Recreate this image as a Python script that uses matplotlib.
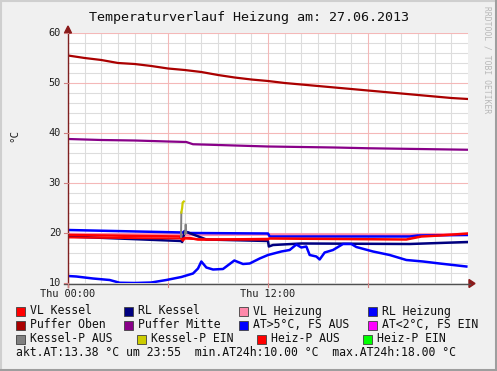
import matplotlib
matplotlib.use('Agg')
import matplotlib.pyplot as plt
import matplotlib.patches as mpatches
from matplotlib.lines import Line2D
import numpy as np

W, H = 497, 371
FONT = 'DejaVu Sans Mono'

# ---- data (hours since 00:00, temperature in degC) ----
oben_h = list(range(25))
puffer_oben = [55.5, 55.0, 54.6, 54.0, 53.8, 53.4, 52.9, 52.6, 52.2, 51.6, 51.1, 50.7,
               50.4, 50.0, 49.7, 49.4, 49.1, 48.8, 48.5, 48.2, 47.9, 47.6, 47.3, 47.0, 46.8]

mitte_h = [0, 1, 2, 3, 4, 5, 6, 7.1, 7.5, 8, 9, 10, 11, 12, 14, 16, 18, 20, 22, 24]
puffer_mitte = [38.8, 38.7, 38.6, 38.55, 38.5, 38.4, 38.3, 38.2, 37.75, 37.7, 37.6, 37.5,
                37.4, 37.3, 37.2, 37.1, 36.95, 36.85, 36.75, 36.65]

at_h = [0, 0.5, 1.5, 2.5, 3.1, 4.0, 5.0, 5.9, 6.8, 7.5, 7.8, 8.0, 8.3, 8.7, 9.3, 9.98,
        10.5, 10.9, 11.5, 12.0, 12.8, 13.3, 13.7, 14.0, 14.3, 14.5, 14.9, 15.1, 15.4,
        15.9, 16.5, 17.0, 17.3, 18.3, 19.3, 20.3, 21.3, 22.3, 23.9]
aussen = [11.4, 11.3, 10.9, 10.6, 10.05, 10.0, 10.1, 10.6, 11.2, 11.9, 12.9, 14.3, 13.1,
          12.7, 12.8, 14.5, 13.8, 13.9, 14.9, 15.6, 16.3, 16.6, 17.7, 17.1, 17.3, 15.6,
          15.3, 14.7, 16.1, 16.6, 17.8, 17.8, 17.2, 16.3, 15.6, 14.6, 14.3, 13.9, 13.3]

rlh_h = [0, 6.9, 7.0, 7.1, 7.3, 12.0, 12.1, 20.5, 21.0, 24]
rl_heizung = [20.6, 20.1, 20.4, 20.2, 20.0, 19.9, 19.3, 19.3, 19.5, 19.6]

vlh_h = [0, 7, 12, 20.5, 24]
vl_heizung = [19.8, 19.6, 19.7, 19.6, 19.8]

vlk_h = [0, 6.7, 6.9, 7.0, 7.3, 7.8, 9.0, 12.0, 12.1, 20.3, 21.2, 22.3, 24]
vl_kessel = [19.6, 19.3, 18.5, 19.0, 19.0, 18.7, 18.7, 18.8, 18.9, 18.7, 19.3, 19.5, 19.9]

hpa_h = [0, 6.8, 7.0, 8.0, 12.0]
heiz_p_aus = [19.1, 18.9, 18.9, 18.7, 18.7]

rlk_h = [0, 6.8, 6.85, 7.0, 7.2, 8.3, 12.0, 12.05, 12.3, 14.0, 20.5, 24]
rl_kessel = [19.3, 18.4, 18.2, 20.3, 20.1, 18.7, 18.4, 17.3, 17.6, 17.9, 17.8, 18.2]

kpa_h = [6.78, 6.80, np.nan, 7.02, 7.06, 7.1]
kessel_p_aus = [19.2, 24.1, np.nan, 19.8, 21.7, 20.0]

kpe_h = [6.80, 6.85, 6.88, 6.95]
kessel_p_ein = [24.1, 25.0, 26.1, 26.3]

legend_rows = [
    [('VL Kessel', '#FF0000'), ('RL Kessel', '#000080'),
     ('VL Heizung', '#FF88AA'), ('RL Heizung', '#0000FF')],
    [('Puffer Oben', '#AA0000'), ('Puffer Mitte', '#880088'),
     ('AT>5°C, FS AUS', '#0000FF'), ('AT<2°C, FS EIN', '#FF00FF')],
    [('Kessel-P AUS', '#808080'), ('Kessel-P EIN', '#CCCC00'),
     ('Heiz-P AUS', '#FF0000'), ('Heiz-P EIN', '#00FF00')],
]
legend_box_x = [[16, 124, 239, 368], [16, 124, 239, 368], [16, 137, 257, 363]]
legend_row_y = [311, 325, 339]
summary = 'akt.AT:13.38 °C um 23:55  min.AT24h:10.00 °C  max.AT24h:18.00 °C'


def fx(px):
    return px / W


def fy(py):
    return 1 - py / H


fig = plt.figure(figsize=(W / 100, H / 100), dpi=100)
fig.patch.set_facecolor('#F0F0F0')

# 3D-ish frame
fig.add_artist(Line2D([fx(0.5), fx(0.5)], [0, 1], color='#CFCFCF', lw=1.5))
fig.add_artist(Line2D([0, 1], [fy(0.5), fy(0.5)], color='#CFCFCF', lw=1.5))
fig.add_artist(Line2D([fx(495.5), fx(495.5)], [0, 1], color='#9E9E9E', lw=2.2))
fig.add_artist(Line2D([0, 1], [fy(369.5), fy(369.5)], color='#9E9E9E', lw=2.2))

ax = fig.add_axes([fx(68), fy(283), fx(468) - fx(68), fy(33) - fy(283)])
ax.set_facecolor('white')
ax.set_xlim(0, 24)
ax.set_ylim(10, 60)
for s in ax.spines.values():
    s.set_visible(False)
ax.set_xticks([])
ax.set_yticks([])

# grid
for h in range(1, 24):
    if h % 6:
        ax.axvline(h, color='#DDDDDD', lw=0.8, zorder=0)
for v in range(12, 60, 2):
    if v % 10:
        ax.axhline(v, color='#DDDDDD', lw=0.8, zorder=0)
for h in (0, 6, 12, 18):
    ax.axvline(h, color='#F4B8B8', lw=0.8, zorder=0.5)
for v in range(20, 61, 10):
    ax.axhline(v, color='#F4B8B8', lw=0.8, zorder=0.5)

lw = 1.8
ax.plot(vlh_h, vl_heizung, color='#FF88AA', lw=lw, zorder=2)
ax.plot(rlh_h, rl_heizung, color='#0000FF', lw=lw, zorder=3)
ax.plot(rlk_h, rl_kessel, color='#000080', lw=lw, zorder=3)
ax.plot(hpa_h, heiz_p_aus, color='#FF0000', lw=1.4, zorder=3)
ax.plot(vlk_h, vl_kessel, color='#FF0000', lw=lw, zorder=4)
ax.plot(kpa_h, kessel_p_aus, color='#808080', lw=1.4, zorder=5)
ax.plot(kpe_h, kessel_p_ein, color='#CCCC00', lw=1.6, zorder=5)
ax.plot(at_h, aussen, color='#0000FF', lw=lw, zorder=4)
ax.plot(oben_h, puffer_oben, color='#AA0000', lw=1.6, zorder=3)
ax.plot(mitte_h, puffer_mitte, color='#880088', lw=1.6, zorder=3)

# axes lines with arrows
fig.add_artist(Line2D([fx(64), fx(470)], [fy(283.5), fy(283.5)], color='#505050', lw=1))
fig.add_artist(Line2D([fx(68), fx(68)], [fy(287), fy(31)], color='#802020', lw=1))
fig.add_artist(mpatches.Polygon([[fx(469), fy(279.5)], [fx(475), fy(283.5)], [fx(469), fy(287.5)]],
                                closed=True, color='#8B1A1A'))
fig.add_artist(mpatches.Polygon([[fx(64.5), fy(33)], [fx(68), fy(26)], [fx(71.5), fy(33)]],
                                closed=True, color='#8B1A1A'))
for h in (0, 6, 12, 18):
    px = 68 + h * 400 / 24
    fig.add_artist(Line2D([fx(px), fx(px)], [fy(283), fy(287)], color='#D08080', lw=0.8))
for v in range(10, 61, 10):
    py = 283 - (v - 10) * 5
    fig.add_artist(Line2D([fx(64), fx(68)], [fy(py), fy(py)], color='#D08080', lw=0.8))
    fig.text(fx(61), fy(py), str(v), ha='right', va='center', fontsize=7.4,
             family=FONT, color='#202020')

fig.text(fx(68), fy(294), 'Thu 00:00', ha='center', va='center', fontsize=7.4,
         family=FONT, color='#202020')
fig.text(fx(268), fy(294), 'Thu 12:00', ha='center', va='center', fontsize=7.4,
         family=FONT, color='#202020')

fig.text(fx(14), fy(136), '°C', rotation=90, ha='center', va='center', fontsize=7.8,
         family=FONT, color='#202020')

fig.text(fx(249), fy(17), 'Temperaturverlauf Heizung am: 27.06.2013', ha='center',
         va='center', fontsize=9.6, family=FONT, color='#101010')

fig.text(fx(487), fy(6), 'RRDTOOL / TOBI OETIKER', rotation=270, ha='center', va='top',
         fontsize=5.8, family=FONT, color='#B8B8B8')

# legend
for row, xs, py in zip(legend_rows, legend_box_x, legend_row_y):
    for (label, color), bx in zip(row, xs):
        fig.add_artist(mpatches.Rectangle((fx(bx), fy(py + 4.5)), fx(9), 9 / H,
                                          facecolor=color, edgecolor='#404040', lw=0.6))
        fig.text(fx(bx + 14), fy(py), label, ha='left', va='center', fontsize=8.3,
                 family=FONT, color='#101010')
fig.text(fx(16), fy(353), summary, ha='left', va='center', fontsize=8.3,
         family=FONT, color='#101010')

plt.savefig('out.png', dpi=100, facecolor=fig.get_facecolor())
plt.close()
